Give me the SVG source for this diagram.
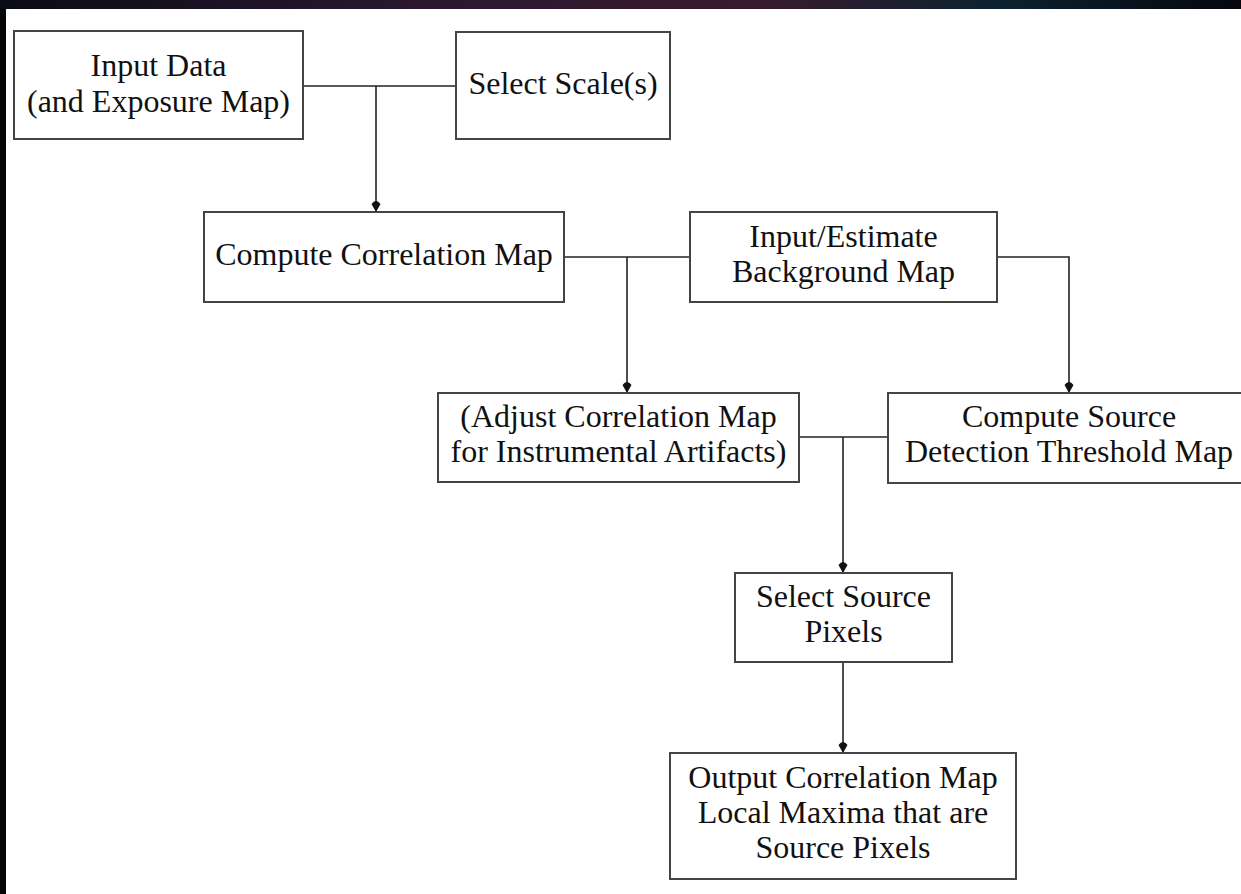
<svg xmlns="http://www.w3.org/2000/svg" width="1241" height="894" viewBox="0 0 1241 894">
<style>
.box{fill:#fff;stroke:#444;stroke-width:2}
.t{font-family:"Liberation Serif","Times New Roman",serif;font-size:32px;fill:#111;text-anchor:middle}
.c{fill:none;stroke:#222;stroke-width:1.6}
</style>
<defs>
<linearGradient id="sky" x1="0" y1="0" x2="1" y2="0">
<stop offset="0" stop-color="#0a0c14"/>
<stop offset="0.35" stop-color="#2a1830"/>
<stop offset="0.6" stop-color="#3a1a2c"/>
<stop offset="0.8" stop-color="#0c2230"/>
<stop offset="1" stop-color="#05070d"/>
</linearGradient>
<marker id="arr" markerWidth="16" markerHeight="12" refX="15" refY="6" orient="auto" markerUnits="userSpaceOnUse" viewBox="0 0 16 12">
<path d="M15,6 L7,1.5 Q1,6 7,10.5 Z" fill="#111"/>
</marker>
</defs>
<rect x="0" y="0" width="1241" height="894" fill="#050608"/>
<rect x="0" y="0" width="1241" height="9" fill="url(#sky)"/>
<rect x="6" y="9" width="1235" height="885" fill="#fff"/>
<g id="connectors">
<line class="c" x1="303" y1="86" x2="456" y2="86"/>
<line class="c" x1="376" y1="86" x2="376" y2="212" marker-end="url(#arr)"/>
<line class="c" x1="564" y1="257" x2="690" y2="257"/>
<line class="c" x1="627" y1="257" x2="627" y2="393" marker-end="url(#arr)"/>
<polyline class="c" points="997,257 1069,257 1069,393" marker-end="url(#arr)"/>
<line class="c" x1="799" y1="437" x2="888" y2="437"/>
<line class="c" x1="843" y1="437" x2="843" y2="573" marker-end="url(#arr)"/>
<line class="c" x1="843" y1="662" x2="843" y2="753" marker-end="url(#arr)"/>
</g>
<g id="input-data">
<rect class="box" x="14" y="31" width="289" height="108"/>
<text class="t" x="158.5" y="76">Input Data</text>
<text class="t" x="158.5" y="112">(and Exposure Map)</text>
</g>
<g id="select-scales">
<rect class="box" x="456" y="32" width="214" height="107"/>
<text class="t" x="563" y="94">Select Scale(s)</text>
</g>
<g id="compute-correlation">
<rect class="box" x="204" y="212" width="360" height="90"/>
<text class="t" x="384" y="265">Compute Correlation Map</text>
</g>
<g id="background-map">
<rect class="box" x="690" y="212" width="307" height="90"/>
<text class="t" x="843.5" y="247">Input/Estimate</text>
<text class="t" x="843.5" y="282">Background Map</text>
</g>
<g id="adjust-correlation">
<rect class="box" x="438" y="393" width="361" height="89"/>
<text class="t" x="618.5" y="427">(Adjust Correlation Map</text>
<text class="t" x="618.5" y="462">for Instrumental Artifacts)</text>
</g>
<g id="threshold-map">
<rect class="box" x="888" y="393" width="362" height="90"/>
<text class="t" x="1069" y="427">Compute Source</text>
<text class="t" x="1069" y="462">Detection Threshold Map</text>
</g>
<g id="select-source-pixels">
<rect class="box" x="735" y="573" width="217" height="89"/>
<text class="t" x="843.5" y="607">Select Source</text>
<text class="t" x="843.5" y="642">Pixels</text>
</g>
<g id="output">
<rect class="box" x="670" y="753" width="346" height="126"/>
<text class="t" x="843" y="788">Output Correlation Map</text>
<text class="t" x="843" y="823">Local Maxima that are</text>
<text class="t" x="843" y="858">Source Pixels</text>
</g>
</svg>
